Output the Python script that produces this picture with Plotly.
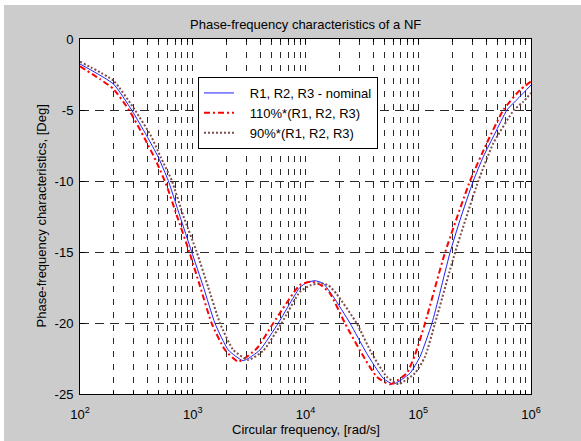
import plotly.graph_objects as go

# ---------------- data ----------------
W_NOM = [100, 198, 287, 390, 495, 607, 696, 771, 977, 1241, 1574, 2066, 2805,
         3945, 5740, 8930, 10300, 12100, 14290, 17660, 24850, 34900, 49000,
         60100, 84500, 103700, 132500, 191300, 234600, 307700, 377600, 479400,
         612600, 798800, 1000000]
PH_NOM = [-1.76, -3.17, -5.0, -6.81, -8.33, -9.98, -11.4, -12.5, -14.98, -17.44,
          -20.02, -21.9, -22.65, -21.9, -20.0, -17.49, -17.15, -17.02, -17.2,
          -18.15, -20.02, -22.14, -23.9, -24.3, -23.54, -22.37, -20.0, -15.05,
          -12.75, -10.0, -8.29, -6.64, -5.0, -4.05, -3.24]

W_110 = [100, 150, 198, 272, 377, 479, 587, 720, 931, 1159, 1472, 1932, 2535,
         3690, 5190, 8930, 11350, 13500, 16480, 22390, 31450, 42750, 56100,
         78900, 93500, 114800, 172700, 287700, 404700, 568100, 798800, 1000000]
PH_110 = [-1.92, -2.82, -3.52, -5.0, -7.04, -8.69, -10.33, -12.4, -14.98, -17.4,
          -20.02, -21.9, -22.72, -21.8, -20.0, -17.32, -17.09, -17.3, -17.91,
          -20.02, -22.14, -23.78, -24.32, -23.54, -22.25, -20.02, -15.05, -10.0,
          -7.35, -5.0, -3.59, -3.0]

W_90 = [100, 198, 307, 425, 520, 654, 825, 1082, 1374, 1745, 2290, 3110, 4225,
        6150, 8930, 11000, 13460, 16000, 18880, 28440, 38650, 52480, 66500,
        93500, 114800, 140900, 211800, 340900, 463000, 706800, 854700, 1000000]
PH_90 = [-1.6, -2.93, -5.0, -6.81, -8.33, -10.0, -12.45, -14.98, -17.5, -20.02,
         -21.9, -22.6, -21.95, -20.0, -17.8, -17.35, -17.2, -17.35, -17.95,
         -20.02, -22.14, -23.78, -24.3, -23.54, -22.37, -20.02, -15.05, -10.0,
         -7.35, -5.0, -4.41, -3.8]

SERIES_NAMES = ["R1, R2, R3 - nominal", "110%*(R1, R2, R3)", "90%*(R1, R2, R3)"]

X_TICK_VALS = [1e2, 1e3, 1e4, 1e5, 1e6]
X_TICK_TEXT = ["10<sup>2</sup>", "10<sup>3</sup>", "10<sup>4</sup>",
               "10<sup>5</sup>", "10<sup>6</sup>"]
X_MINOR_TICKS = [m * 10 ** e for e in range(2, 6) for m in range(2, 10)]
Y_TICK_VALS = [-25, -20, -15, -10, -5, 0]
Y_TICK_TEXT = ["-25", "-20", "-15", "-10", "-5", "0"]

TITLE = "Phase-frequency characteristics of a NF"
X_TITLE = "Circular frequency, [rad/s]"
Y_TITLE = "Phase-frequency characteristics, [Deg]"

# ---------------- figure ----------------
FONT = "Liberation Sans, Arial, sans-serif"
# page offset of the figure (white screenshot border at top/left)
OFF_X, OFF_Y = 4, 5
W, H = 581 - OFF_X, 441 - OFF_Y
# plot area in page pixels: x 80..531, y 39..394
L, R, T, B = 80 - OFF_X, 581 - 531, 39 - OFF_Y, 441 - 394
PW, PH = W - L - R, H - T - B
GRID = "#2a2a2a"
LEGEND_PAD = "\u00a0\u00a0\u00a0"

fig = go.Figure()
fig.add_trace(go.Scatter(x=W_NOM, y=PH_NOM, name=LEGEND_PAD + SERIES_NAMES[0], mode="lines",
                         line=dict(color="#1f1fff", width=1, shape="spline", smoothing=0.5)))
fig.add_trace(go.Scatter(x=W_110, y=PH_110, name=LEGEND_PAD + SERIES_NAMES[1], mode="lines",
                         line=dict(color="#ff0000", width=2, dash="6px,3px,2px,3px",
                                   shape="spline", smoothing=0.5)))
fig.add_trace(go.Scatter(x=W_90, y=PH_90, name=LEGEND_PAD + SERIES_NAMES[2], mode="lines",
                         line=dict(color="#7a4e4a", width=2, dash="2px,2px",
                                   shape="spline", smoothing=0.5)))


def px_x(p):
    """page pixel x -> paper coordinate"""
    return (p - OFF_X - L) / PW


def px_y(p):
    """page pixel y -> paper coordinate"""
    return (H - B - (p - OFF_Y)) / PH


fig.update_layout(
    width=W, height=H,
    margin=dict(l=L, r=R, t=T, b=B, pad=0),
    paper_bgcolor="#cccccc", plot_bgcolor="white",
    font=dict(family=FONT, size=13, color="black"),
    showlegend=True,
    legend=dict(x=px_x(198), y=px_y(77), xanchor="left", yanchor="top",
                bgcolor="white", bordercolor="black", borderwidth=1,
                font=dict(size=13), tracegroupgap=0),
    annotations=[
        dict(text=TITLE, xref="paper", yref="paper", x=0.5, y=1, yshift=15,
             xanchor="center", yanchor="middle", showarrow=False,
             font=dict(size=13)),
        dict(text=X_TITLE, xref="paper", yref="paper", x=0.5, y=0, yshift=-35,
             xanchor="center", yanchor="middle", showarrow=False,
             font=dict(size=13)),
        dict(text=Y_TITLE, xref="paper", yref="paper", x=0, y=0.5, xshift=-39,
             xanchor="center", yanchor="middle", showarrow=False, textangle=-90,
             font=dict(size=13)),
    ],
)

fig.update_xaxes(
    type="log", range=[2, 6], tickmode="array", tickvals=X_TICK_VALS, ticktext=X_TICK_TEXT,
    ticks="inside", ticklen=5, tickcolor="black", tickwidth=1,
    showline=True, linecolor="black", linewidth=1, mirror="allticks",
    showgrid=True, gridcolor=GRID, gridwidth=1, griddash="6px,7px",
    zeroline=False, ticklabelstandoff=8,
    minor=dict(tickmode="array", tickvals=X_MINOR_TICKS, ticks="inside", ticklen=3,
               tickcolor="black", showgrid=True, gridcolor=GRID, gridwidth=1,
               griddash="6px,7px"),
)
fig.update_yaxes(
    range=[-25, 0], tickmode="array", tickvals=Y_TICK_VALS, ticktext=Y_TICK_TEXT,
    ticks="inside", ticklen=5, tickcolor="black", tickwidth=1,
    showline=True, linecolor="black", linewidth=1, mirror="allticks",
    showgrid=True, gridcolor=GRID, gridwidth=1, griddash="9px,6px",
    zeroline=False, ticklabelstandoff=3,
)

fig.write_html(
    "out.html",
    post_script=(
        "document.body.style.margin='%dpx 0 0 %dpx';"
        "document.body.style.padding='0';"
        "document.body.style.overflow='hidden';"
        "document.body.style.background='white';" % (OFF_Y, OFF_X)
    ),
)
